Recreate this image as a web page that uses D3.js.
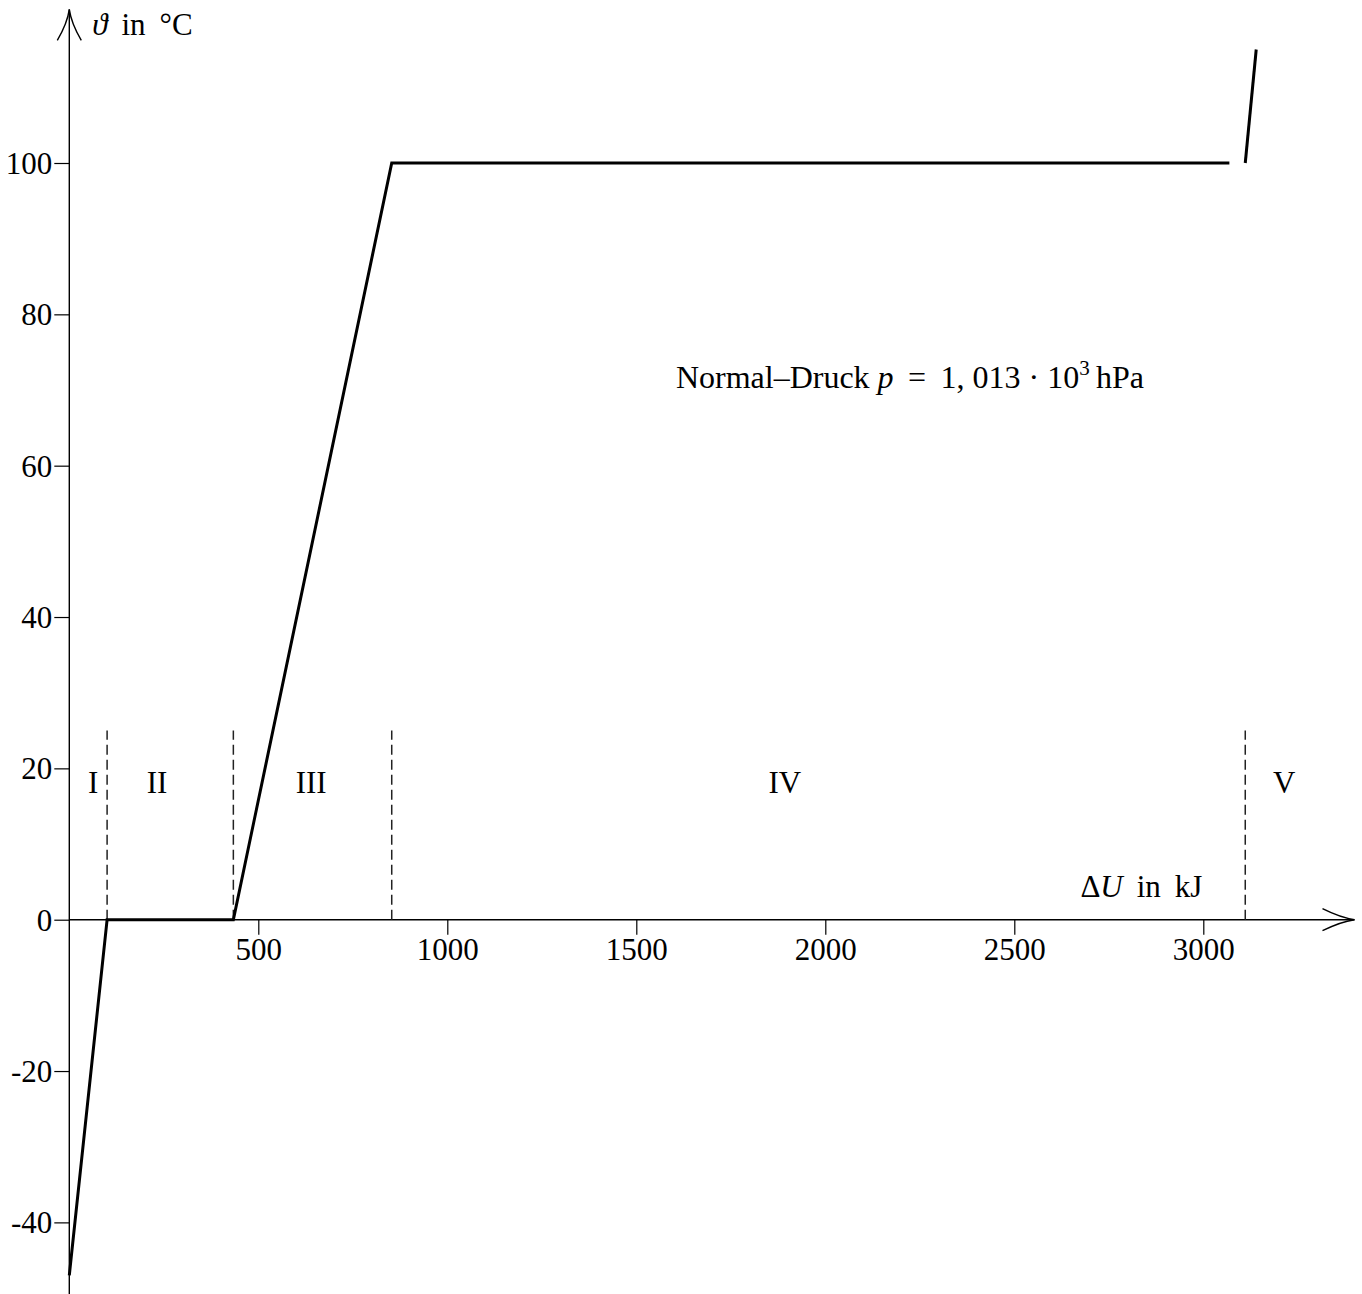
<!DOCTYPE html>
<html>
<head>
<meta charset="utf-8">
<script src="https://cdn.jsdelivr.net/npm/d3@7"></script>
<style>
  body { margin: 0; background: #fff; }
  svg text { font-family: 'Liberation Serif', 'Times New Roman', serif; fill: #000; white-space: pre; }
</style>
</head>
<body>
<div id="chart"></div>
<script>
const W = 1362;
const H = 1294;

// heating curve of water: delta U in kJ, temperature in deg C
const curveMain = [ [0, -47], [100, 0], [434, 0], [853, 100], [3069, 100] ];
const curveSteam = [ [3111, 100], [3140, 115] ];

// phase borders (kJ) and their roman labels
const phaseBorders = [100, 434, 853, 3111];
const phaseLabels = ['I', 'II', 'III', 'IV', 'V'];
const phaseLabelX = [63, 232, 640, 1893, 3214];

const xTicks = [500, 1000, 1500, 2000, 2500, 3000];
const yTicks = [-40, -20, 0, 20, 40, 60, 80, 100];

const x = d3.scaleLinear().domain([0, 3000]).range([69.3, 1203.3]);
const y = d3.scaleLinear().domain([0, 100]).range([919.7, 163]);

const svg = d3.select('#chart')
  .append('svg')
  .attr('width', W)
  .attr('height', H);

const FS = 31;
const TH = '\u2009';

// x axis
const xAxis = d3.axisBottom(x)
  .tickValues(xTicks)
  .tickSize(15)
  .tickPadding(2)
  .tickFormat(d3.format('d'));

const gx = svg.append('g')
  .attr('transform', `translate(0,${y(0)})`)
  .call(xAxis);
gx.select('.domain').remove();
gx.selectAll('.tick line').attr('stroke', '#000').attr('stroke-width', 1.2);
gx.selectAll('.tick text')
  .attr('font-size', FS)
  .attr('font-family', null)
  .attr('dy', '0.74em');

// y axis
const yAxis = d3.axisLeft(y)
  .tickValues(yTicks)
  .tickSize(15)
  .tickPadding(2)
  .tickFormat(d => d < 0 ? '-' + Math.abs(d) : String(d));

const gy = svg.append('g')
  .attr('transform', `translate(${x(0)},0)`)
  .call(yAxis);
gy.select('.domain').remove();
gy.selectAll('.tick line').attr('stroke', '#000').attr('stroke-width', 1.2);
gy.selectAll('.tick text')
  .attr('font-size', FS)
  .attr('font-family', null)
  .attr('dy', '0.34em');

// axis lines with latex-like arrow heads
const axes = svg.append('g')
  .attr('fill', 'none')
  .attr('stroke', '#000')
  .attr('stroke-width', 1.4);

const xEnd = x(3400);
const yTop = y(120.3);

axes.append('line')
  .attr('x1', x(0)).attr('x2', xEnd)
  .attr('y1', y(0)).attr('y2', y(0));
axes.append('line')
  .attr('x1', x(0)).attr('x2', x(0))
  .attr('y1', H).attr('y2', yTop);

axes.append('path')
  .attr('d', `M${xEnd - 32},${y(0) - 11} Q${xEnd - 14},${y(0) - 2} ${xEnd},${y(0)}` +
             ` Q${xEnd - 14},${y(0) + 2} ${xEnd - 32},${y(0) + 11}`);
axes.append('path')
  .attr('d', `M${x(0) - 12},${yTop + 31} Q${x(0) - 2},${yTop + 14} ${x(0)},${yTop}` +
             ` Q${x(0) + 2},${yTop + 14} ${x(0) + 12},${yTop + 31}`);

// phase borders
svg.append('g')
  .attr('stroke', '#222')
  .attr('stroke-width', 1.5)
  .attr('stroke-dasharray', '10,5')
  .selectAll('line')
  .data(phaseBorders)
  .enter().append('line')
    .attr('x1', d => x(d)).attr('x2', d => x(d))
    .attr('y1', y(0)).attr('y2', y(25));

svg.append('g')
  .selectAll('text')
  .data(phaseLabels)
  .enter().append('text')
    .attr('x', (d, i) => x(phaseLabelX[i]))
    .attr('y', y(16.8))
    .attr('text-anchor', 'middle')
    .attr('font-size', FS)
    .text(d => d);

// curve
const line = d3.line()
  .x(d => x(d[0]))
  .y(d => y(d[1]));

svg.append('g')
  .attr('fill', 'none')
  .attr('stroke', '#000')
  .attr('stroke-width', 3)
  .attr('stroke-linejoin', 'miter')
  .selectAll('path')
  .data([curveMain, curveSteam])
  .enter().append('path')
    .attr('d', line);

// axis titles
const yTitle = svg.append('text')
  .attr('x', x(0) + 23)
  .attr('y', 35)
  .attr('font-size', FS);
yTitle.append('tspan').attr('font-style', 'italic').text('ϑ');
yTitle.append('tspan').text(' ' + TH + 'in ' + TH + '°C');

const xTitle = svg.append('text')
  .attr('x', x(3000) - 1)
  .attr('y', y(3))
  .attr('text-anchor', 'end')
  .attr('font-size', FS);
xTitle.append('tspan').text('Δ');
xTitle.append('tspan').attr('font-style', 'italic').text('U');
xTitle.append('tspan').text(' ' + TH + 'in ' + TH + 'kJ');

// note
const note = svg.append('text')
  .attr('x', x(2224))
  .attr('y', y(70.2))
  .attr('text-anchor', 'middle')
  .attr('font-size', 32);
note.append('tspan').text('Normal–Druck ');
note.append('tspan').attr('font-style', 'italic').text('p');
note.append('tspan').text(' ' + TH + '= ' + TH + '1, 013 · 10');
note.append('tspan').attr('font-size', 21).attr('dy', -13).text('3');
note.append('tspan').attr('dy', 13).text(TH + 'hPa');
</script>
</body>
</html>
